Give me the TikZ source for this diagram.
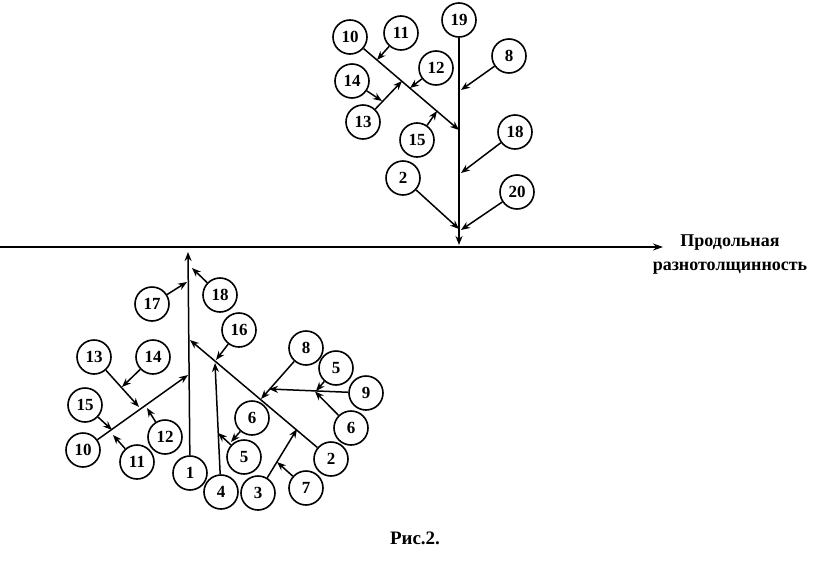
\documentclass[tikz,border=0pt]{standalone}
\usepackage{fontspec}
\setmainfont{Liberation Serif}
\usetikzlibrary{arrows.meta}
\tikzset{
  num/.style={circle,draw,line width=1.6pt,minimum size=34pt,inner sep=0pt,fill=white,font=\fontsize{17}{19}\selectfont\bfseries},
  br/.style={line width=1.5pt,-{Stealth[length=9pt,width=7pt]}},
}
\begin{document}
\begin{tikzpicture}[x=1pt,y=1pt,yscale=-1,xscale=1]
\path[use as bounding box] (0,0) rectangle (825,573);

%Axis
\coordinate (ax0) at (0,247);
\coordinate (ax1) at (663,247);
\draw [line width=1.8pt,-{Stealth[length=10pt,width=7pt]}] (ax0) -- (ax1);
% Text Node
\node [align=center,font=\fontsize{18}{24}\selectfont\bfseries] (axlbl) at (730,255) {Продольная\\разнотолщинность};

%Upper tree: circles
\node [num] (a19) at (459,20) {19};
\node [num] (a10) at (350,37) {10};
\node [num] (a11) at (401,33) {11};
\node [num] (a8) at (509,56) {8};
\node [num] (a12) at (436,68) {12};
\node [num] (a14) at (352,81) {14};
\node [num] (a13) at (363,122) {13};
\node [num] (a15) at (417,140) {15};
\node [num] (a18) at (515,132) {18};
\node [num] (a2) at (403,178) {2};
\node [num] (a20) at (517,192) {20};

%Upper tree: arrow ends
\coordinate (ta) at (459,245);
\coordinate (t10) at (459,130);
\coordinate (t11) at (377,60);
\coordinate (t12) at (410,88);
\coordinate (t13) at (402,81);
\coordinate (t14) at (382,101);
\coordinate (t15) at (437,111);
\coordinate (t8) at (461,90);
\coordinate (t18) at (461,173);
\coordinate (t2) at (459,229);
\coordinate (t20) at (461,230);

%Upper tree: arrows
\draw [br] (a19) -- (ta);
\draw [br] (a10) -- (t10);
\draw [br] (a11) -- (t11);
\draw [br] (a12) -- (t12);
\draw [br] (a13) -- (t13);
\draw [br] (a14) -- (t14);
\draw [br] (a15) -- (t15);
\draw [br] (a8) -- (t8);
\draw [br] (a18) -- (t18);
\draw [br] (a2) -- (t2);
\draw [br] (a20) -- (t20);

%Lower tree: circles
\node [num] (b1) at (190,473) {1};
\node [num] (b17) at (152,304) {17};
\node [num] (b18) at (220,295) {18};
\node [num] (b16) at (239,330) {16};
\node [num] (b13) at (94,357) {13};
\node [num] (b14) at (153,357) {14};
\node [num] (b15) at (85,405) {15};
\node [num] (b12) at (165,437) {12};
\node [num] (b10) at (83,450) {10};
\node [num] (b11) at (137,462) {11};
\node [num] (b4) at (221,492) {4};
\node [num] (b3) at (258,493) {3};
\node [num] (b5) at (244,457) {5};
\node [num] (b6) at (252,418) {6};
\node [num] (b7) at (306,488) {7};
\node [num] (b2) at (331,459) {2};
\node [num] (b8) at (306,348) {8};
\node [num] (b5r) at (336,368) {5};
\node [num] (b9) at (366,393) {9};
\node [num] (b6r) at (351,428) {6};

%Lower tree: arrow ends
\coordinate (tb) at (188,252);
\coordinate (s17) at (187,282);
\coordinate (s18) at (192,268);
\coordinate (s2) at (190,340);
\coordinate (s16) at (216,360);
\coordinate (s4) at (215,363);
\coordinate (s5) at (218,433);
\coordinate (s6) at (231,442);
\coordinate (s8) at (261,399);
\coordinate (s9) at (269,389);
\coordinate (s5r) at (316,391);
\coordinate (s6r) at (315,391.5);
\coordinate (s3) at (297,429);
\coordinate (s7) at (277,462);
\coordinate (s10) at (188,375);
\coordinate (s13) at (139,407);
\coordinate (s14) at (122,387);
\coordinate (s12) at (147,408);
\coordinate (s15) at (112,430);
\coordinate (s11) at (113,435);

%Lower tree: arrows
\draw [br] (b1) -- (tb);
\draw [br] (b17) -- (s17);
\draw [br] (b18) -- (s18);
\draw [br] (b2) -- (s2);
\draw [br] (b16) -- (s16);
\draw [br] (b4) -- (s4);
\draw [br] (b5) -- (s5);
\draw [br] (b6) -- (s6);
\draw [br] (b8) -- (s8);
\draw [br] (b9) -- (s9);
\draw [br] (b5r) -- (s5r);
\draw [br] (b6r) -- (s6r);
\draw [br] (b3) -- (s3);
\draw [br] (b7) -- (s7);
\draw [br] (b10) -- (s10);
\draw [br] (b13) -- (s13);
\draw [br] (b14) -- (s14);
\draw [br] (b12) -- (s12);
\draw [br] (b15) -- (s15);
\draw [br] (b11) -- (s11);

% Text Node
\node [font=\fontsize{19}{21}\selectfont\bfseries] (cap) at (415,538) {Рис.2.};

\end{tikzpicture}
\end{document}
